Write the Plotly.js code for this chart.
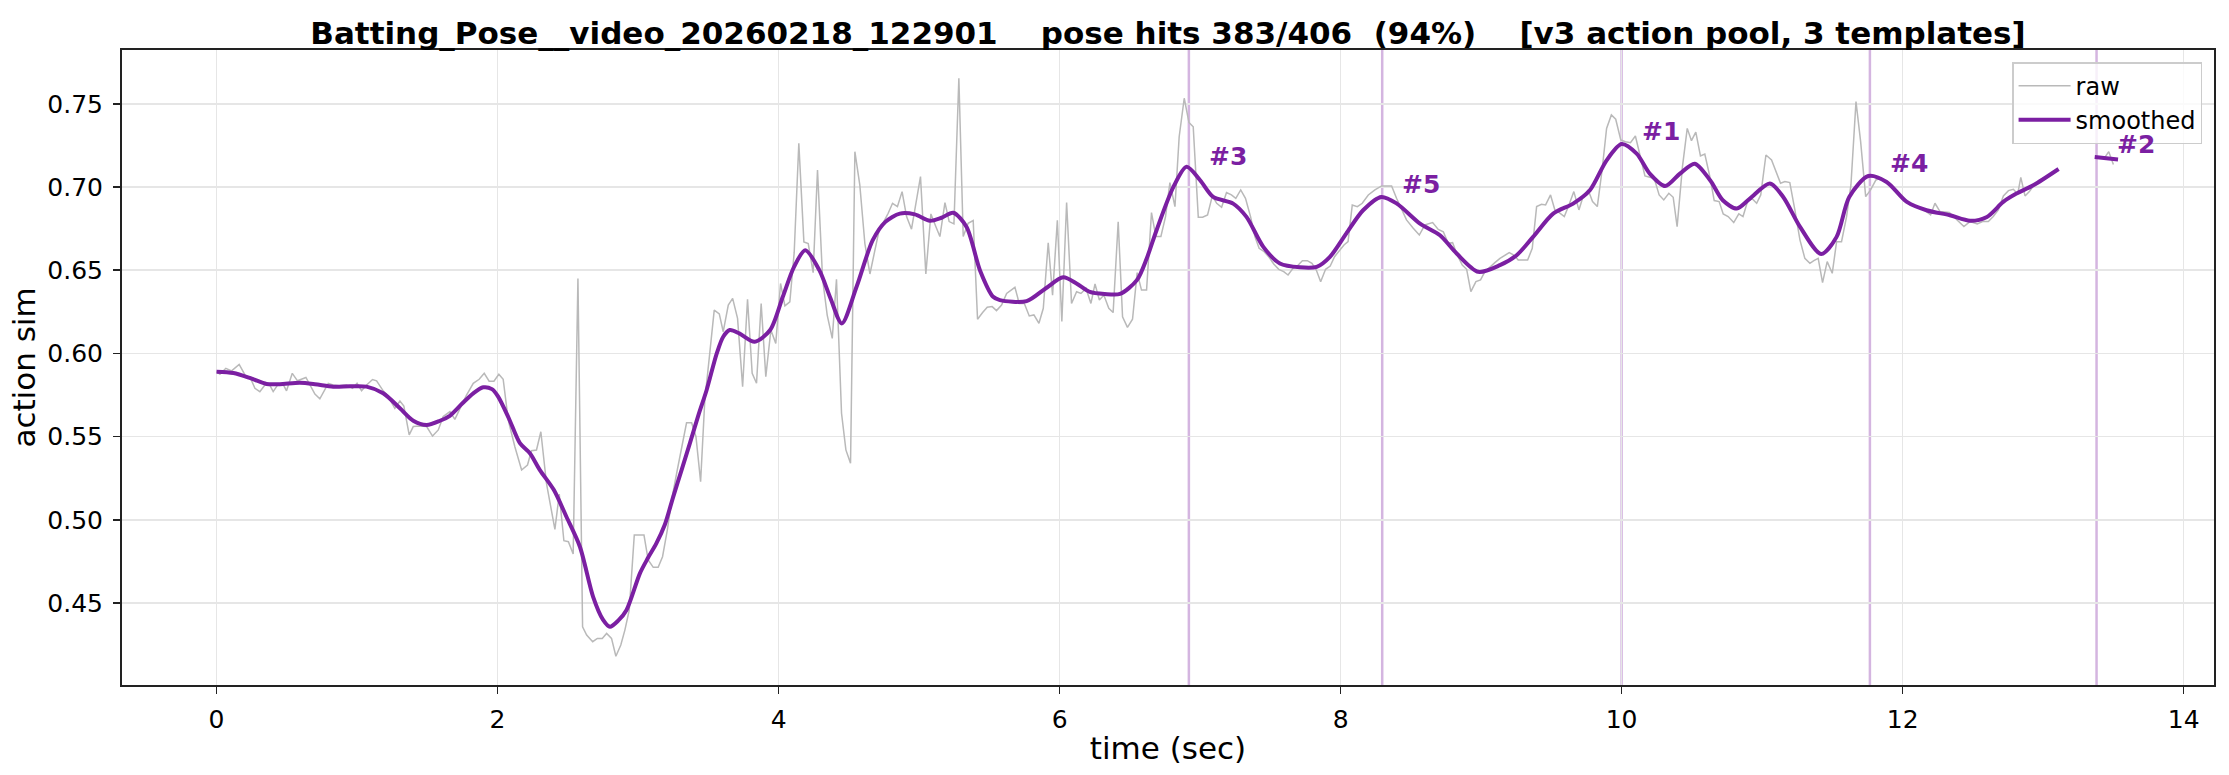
<!DOCTYPE html>
<html>
<head>
<meta charset="utf-8">
<script src="https://cdn.plot.ly/plotly-3.0.1.min.js"></script>
<style>html,body{margin:0;padding:0;background:#fff;}#chart{width:2229px;height:775px;}</style>
</head>
<body>
<div id="chart"></div>
<script>
// ---- raw action similarity (time in sec, value) ----
const rawT = [0.0,0.024,0.066,0.107,0.161,0.209,0.237,0.273,0.308,0.344,0.375,0.403,0.439,0.470,0.498,0.539,0.576,0.636,0.700,0.735,0.795,0.830,0.873,0.925,0.968,1.0,1.032,1.068,1.110,1.139,1.186,1.222,1.269,1.305,1.333,1.371,1.40,1.447,1.495,1.537,1.578,1.613,1.661,1.696,1.744,1.779,1.827,1.869,1.905,1.940,1.974,2.009,2.040,2.076,2.123,2.171,2.213,2.241,2.277,2.308,2.348,2.379,2.408,2.439,2.472,2.504,2.538,2.572,2.605,2.634,2.677,2.71,2.745,2.776,2.811,2.842,2.877,2.906,2.937,2.973,3.008,3.042,3.072,3.108,3.143,3.174,3.208,3.243,3.279,3.31,3.345,3.381,3.412,3.445,3.475,3.51,3.542,3.578,3.606,3.642,3.673,3.708,3.744,3.779,3.812,3.843,3.876,3.909,3.945,3.98,4.014,4.045,4.08,4.111,4.144,4.18,4.211,4.246,4.277,4.313,4.346,4.382,4.412,4.448,4.479,4.512,4.543,4.578,4.614,4.65,4.68,4.716,4.749,4.78,4.811,4.846,4.879,4.911,4.946,4.977,5.01,5.048,5.084,5.119,5.148,5.184,5.214,5.248,5.283,5.314,5.349,5.385,5.416,5.452,5.485,5.52,5.551,5.587,5.623,5.682,5.713,5.749,5.784,5.817,5.853,5.884,5.919,5.95,5.984,6.016,6.05,6.085,6.121,6.152,6.188,6.223,6.252,6.283,6.315,6.35,6.381,6.417,6.448,6.483,6.519,6.552,6.583,6.619,6.654,6.685,6.721,6.754,6.785,6.821,6.851,6.887,6.921,6.951,6.987,7.018,7.053,7.087,7.118,7.153,7.188,7.223,7.254,7.289,7.323,7.359,7.39,7.42,7.456,7.491,7.524,7.56,7.595,7.626,7.661,7.692,7.728,7.763,7.796,7.827,7.858,7.893,7.926,7.957,7.993,8.024,8.053,8.083,8.119,8.154,8.197,8.244,8.292,8.327,8.363,8.398,8.434,8.469,8.517,8.56,8.6,8.655,8.695,8.731,8.766,8.797,8.83,8.866,8.897,8.927,8.963,8.996,9.027,9.063,9.098,9.134,9.17,9.2,9.233,9.264,9.295,9.331,9.364,9.395,9.43,9.459,9.494,9.525,9.556,9.592,9.625,9.66,9.696,9.727,9.762,9.793,9.827,9.861,9.893,9.927,9.958,9.994,10.027,10.063,10.098,10.129,10.166,10.2,10.232,10.267,10.3,10.336,10.367,10.395,10.433,10.467,10.497,10.528,10.561,10.592,10.628,10.659,10.694,10.723,10.758,10.798,10.834,10.864,10.895,10.926,10.961,10.99,11.027,11.067,11.098,11.131,11.162,11.197,11.233,11.269,11.304,11.34,11.368,11.399,11.43,11.463,11.499,11.53,11.565,11.601,11.632,11.668,11.701,11.737,11.772,11.81,11.838,11.909,11.98,12.052,12.135,12.199,12.23,12.266,12.332,12.372,12.436,12.479,12.531,12.569,12.61,12.645,12.681,12.717,12.753,12.788,12.819,12.841,12.871,12.902,12.93,13.2,13.433,13.467,13.5];
const rawV = [0.589,0.5875,0.591,0.5895,0.5934,0.586,0.586,0.579,0.577,0.581,0.5815,0.577,0.5815,0.582,0.5775,0.588,0.5835,0.5855,0.5755,0.5727,0.582,0.581,0.5805,0.581,0.579,0.582,0.5775,0.581,0.5843,0.5835,0.5775,0.574,0.567,0.5713,0.5683,0.551,0.556,0.5563,0.556,0.5503,0.554,0.562,0.565,0.5603,0.5689,0.5749,0.582,0.5844,0.588,0.5833,0.5833,0.5874,0.5844,0.5599,0.5439,0.5299,0.5329,0.5415,0.5419,0.5529,0.5219,0.5078,0.4942,0.5154,0.4874,0.4868,0.4794,0.645,0.4357,0.4307,0.4267,0.4287,0.4287,0.4317,0.4287,0.418,0.4247,0.4337,0.4457,0.4908,0.4908,0.4908,0.4758,0.4714,0.4714,0.4778,0.4938,0.5138,0.5299,0.5439,0.5583,0.5583,0.5499,0.5229,0.572,0.600,0.626,0.6237,0.613,0.629,0.633,0.621,0.580,0.6325,0.588,0.582,0.630,0.586,0.614,0.606,0.642,0.6285,0.631,0.6605,0.7262,0.667,0.666,0.6485,0.7102,0.645,0.623,0.609,0.6445,0.564,0.542,0.5339,0.7212,0.7012,0.666,0.6477,0.6601,0.6742,0.6792,0.6842,0.6902,0.6882,0.6972,0.6822,0.6746,0.6902,0.7062,0.6477,0.6838,0.6762,0.6702,0.6906,0.6792,0.6778,0.7653,0.6702,0.6782,0.6798,0.6205,0.6245,0.6277,0.6281,0.6257,0.629,0.636,0.6397,0.630,0.630,0.6225,0.6231,0.6181,0.6271,0.6665,0.635,0.680,0.6191,0.6906,0.630,0.637,0.636,0.639,0.630,0.6417,0.6321,0.635,0.6271,0.6245,0.679,0.622,0.6156,0.6205,0.6485,0.638,0.638,0.6846,0.6702,0.6702,0.6822,0.7026,0.6882,0.7302,0.7533,0.7387,0.7362,0.6818,0.6818,0.6832,0.6946,0.6902,0.6878,0.6966,0.6952,0.6932,0.6982,0.6932,0.6822,0.6702,0.6631,0.6611,0.6577,0.6537,0.6505,0.6491,0.6471,0.6511,0.6525,0.6557,0.6557,0.6541,0.6501,0.643,0.6505,0.6525,0.6581,0.6621,0.6651,0.6671,0.6892,0.6882,0.6902,0.6952,0.6982,0.7006,0.7008,0.7006,0.6932,0.6862,0.6802,0.6752,0.6711,0.6772,0.6786,0.6745,0.6731,0.6661,0.6665,0.6591,0.6531,0.6505,0.6371,0.6431,0.6441,0.6491,0.6521,0.6545,0.6571,0.6591,0.6605,0.6591,0.6561,0.6561,0.6561,0.6631,0.6882,0.6896,0.6892,0.6952,0.6862,0.6846,0.6822,0.6892,0.6972,0.6862,0.6946,0.6982,0.6912,0.6882,0.7102,0.7352,0.7433,0.7407,0.7282,0.7272,0.7266,0.7306,0.7202,0.7066,0.7058,0.7052,0.6952,0.6922,0.6962,0.6938,0.6762,0.7122,0.7352,0.7278,0.733,0.7186,0.7198,0.7062,0.6918,0.6912,0.6838,0.6822,0.6786,0.6838,0.6822,0.6910,0.6932,0.6902,0.6952,0.7192,0.7162,0.7098,0.7022,0.7032,0.7026,0.6862,0.6682,0.6571,0.6541,0.6557,0.6571,0.6425,0.6551,0.6481,0.6671,0.6671,0.6822,0.7012,0.7513,0.7272,0.6942,0.6982,0.7042,0.7052,0.7012,0.6952,0.6892,0.6872,0.6832,0.6902,0.6852,0.6846,0.6812,0.6762,0.6792,0.6778,0.6792,0.6792,0.6822,0.6862,0.6946,0.6978,0.6986,0.6958,0.7058,0.6946,0.6972,0.7006,null,0.717,0.7212,0.7135];

// ---- smoothed curve ----
const smoothT = [0.0,0.12,0.25,0.356,0.45,0.593,0.70,0.83,0.95,1.067,1.186,1.305,1.40,1.495,1.59,1.66,1.75,1.827,1.898,1.96,2.004,2.08,2.159,2.23,2.30,2.40,2.49,2.586,2.68,2.75,2.80,2.86,2.918,3.013,3.07,3.13,3.19,3.25,3.31,3.369,3.43,3.488,3.56,3.606,3.653,3.72,3.83,3.94,4.03,4.11,4.19,4.29,4.37,4.45,4.555,4.67,4.76,4.863,4.97,5.077,5.16,5.243,5.338,5.433,5.527,5.575,5.765,5.90,6.026,6.12,6.215,6.32,6.43,6.55,6.62,6.69,6.81,6.904,7.0,7.093,7.235,7.33,7.45,7.568,7.71,7.83,7.924,8.04,8.16,8.29,8.40,8.565,8.707,8.826,8.98,9.134,9.253,9.37,9.513,9.655,9.774,9.893,10.0,10.107,10.2,10.31,10.415,10.52,10.63,10.72,10.82,10.913,11.055,11.15,11.27,11.42,11.53,11.62,11.756,11.886,12.03,12.17,12.336,12.48,12.6,12.716,12.81,12.93,13.11,13.2,13.367,13.45,13.533];
const smoothV = [0.589,0.5882,0.5848,0.5816,0.5815,0.5823,0.5815,0.580,0.5802,0.580,0.576,0.567,0.5595,0.557,0.5595,0.5625,0.570,0.576,0.5796,0.5785,0.574,0.561,0.546,0.540,0.530,0.518,0.5018,0.4838,0.4537,0.440,0.4357,0.4395,0.4458,0.4678,0.477,0.4858,0.497,0.5138,0.530,0.546,0.563,0.578,0.600,0.610,0.614,0.612,0.607,0.614,0.634,0.652,0.662,0.650,0.633,0.618,0.640,0.668,0.679,0.684,0.6835,0.6797,0.6815,0.6845,0.676,0.650,0.634,0.632,0.6314,0.639,0.6457,0.642,0.637,0.6357,0.6357,0.644,0.657,0.674,0.700,0.7121,0.704,0.694,0.690,0.682,0.664,0.654,0.6517,0.652,0.658,0.672,0.686,0.694,0.690,0.678,0.671,0.660,0.649,0.653,0.659,0.670,0.684,0.690,0.698,0.716,0.7258,0.720,0.708,0.7005,0.708,0.714,0.704,0.692,0.687,0.693,0.702,0.694,0.676,0.6597,0.670,0.694,0.7066,0.703,0.691,0.686,0.683,0.6797,0.682,0.691,0.696,0.701,0.7108,null,0.718,0.7172,0.7165];

// ---- detected peaks ----
const peakTimes = [6.92, 8.296, 10.0, 11.767, 13.38];
const peakLabels = ['#3', '#5', '#1', '#4', '#2'];

const titleText = 'Batting_Pose__video_20260218_122901\u00a0\u00a0\u00a0 pose hits 383/406\u00a0 (94%)\u00a0\u00a0\u00a0 [v3 action pool, 3 templates]';

const PURPLE = '#7B1FA2';
const FONT = 'DejaVu Sans, Liberation Sans, sans-serif';

function interp(ts, vs, t) {
  for (let i = 0; i < ts.length - 1; i++) {
    if (vs[i] == null || vs[i + 1] == null) continue;
    if (t >= ts[i] && t <= ts[i + 1]) {
      const f = (t - ts[i]) / (ts[i + 1] - ts[i]);
      return vs[i] + f * (vs[i + 1] - vs[i]);
    }
  }
  let best = null, bd = 1e9;
  ts.forEach((x, i) => { if (vs[i] != null && Math.abs(x - t) < bd) { bd = Math.abs(x - t); best = vs[i]; } });
  return best;
}

const traces = [
  { x: rawT, y: rawV, type: 'scatter', mode: 'lines', name: 'raw',
    line: { color: '#b9b9b9', width: 1.5 }, connectgaps: false },
  { x: smoothT, y: smoothV, type: 'scatter', mode: 'lines', name: 'smoothed',
    line: { color: PURPLE, width: 4, shape: 'spline', smoothing: 0.8 }, connectgaps: false }
];

const shapes = peakTimes.map(t => ({
  type: 'line', xref: 'x', yref: 'paper', x0: t, x1: t, y0: 0, y1: 1,
  line: { color: 'rgba(123,31,162,0.33)', width: 2.5 }, layer: 'between'
}));

const annotations = peakTimes.map((t, i) => ({
  xref: 'x', yref: 'y', x: t + 0.13, y: interp(smoothT, smoothV, t) + 0.0075,
  text: peakLabels[i], showarrow: false, xanchor: 'left', yanchor: 'middle',
  font: { family: FONT, size: 25, color: PURPLE, weight: 'bold' }
}));

const axisCommon = {
  showgrid: true, gridcolor: '#e6e6e6', gridwidth: 1.6, zeroline: false,
  showline: true, mirror: true, linecolor: '#222', linewidth: 2,
  ticks: 'outside', ticklen: 7, tickwidth: 1.7, tickcolor: '#222',
  tickfont: { family: FONT, size: 25, color: '#000' }
};

const layout = {
  width: 2229, height: 775,
  margin: { l: 122, r: 15, t: 50, b: 90 },
  paper_bgcolor: '#fff', plot_bgcolor: '#fff',
  font: { family: FONT, color: '#000' },
  title: { text: '<b>' + titleText + '</b>', x: 0.5, xref: 'paper', xanchor: 'center',
           y: 1, yref: 'paper', yanchor: 'bottom', pad: { b: 6 },
           font: { family: FONT, size: 31, color: '#000' } },
  xaxis: Object.assign({}, axisCommon, {
    range: [-0.673, 14.216], tick0: 0, dtick: 2, ticklabelstandoff: 4,
    title: { text: 'time (sec)', font: { family: FONT, size: 31, color: '#000' }, standoff: 4 }
  }),
  yaxis: Object.assign({}, axisCommon, {
    range: [0.4007, 0.7823], tick0: 0.45, dtick: 0.05, tickformat: '.2f', ticklabelstandoff: 5,
    title: { text: 'action sim', font: { family: FONT, size: 31, color: '#000' }, standoff: 2 }
  }),
  showlegend: true,
  legend: { x: 0.9943, y: 0.981, xanchor: 'right', yanchor: 'top', itemwidth: 52,
            bgcolor: 'rgba(255,255,255,0.8)', bordercolor: '#cccccc', borderwidth: 1.5,
            font: { family: FONT, size: 24, color: '#000' } },
  shapes: shapes,
  annotations: annotations
};

Plotly.newPlot('chart', traces, layout, { staticPlot: true, displayModeBar: false });
</script>
</body>
</html>
